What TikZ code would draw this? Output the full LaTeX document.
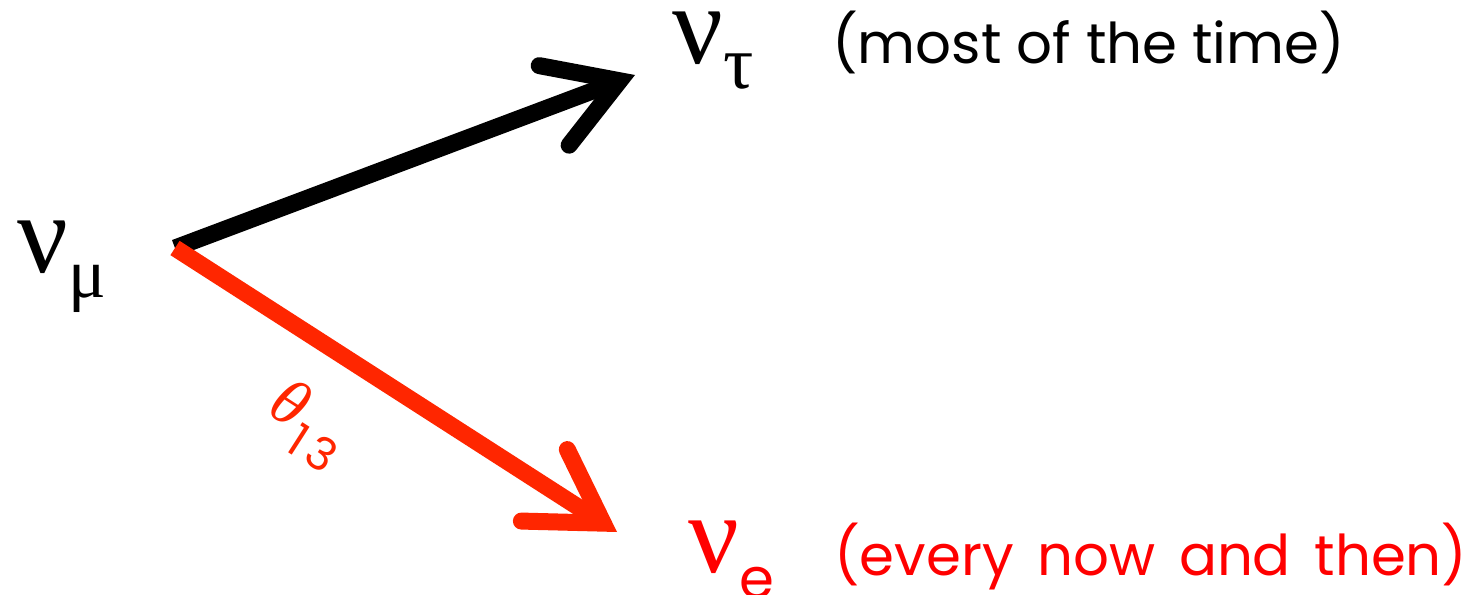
\documentclass[tikz,border=0pt]{standalone}
\usepackage{fontspec}
\setmainfont{Poppins}
\newfontfamily\greekfont{Liberation Serif}
\usetikzlibrary{arrows.meta}
\definecolor{arrowred}{RGB}{255,38,0}
\definecolor{labelred}{RGB}{255,0,0}
% neutrino symbol with a lowered flavour index
\newcommand{\nuflav}[1]{{\greekfont\fontsize{64}{64}\selectfont ν}\raisebox{-0.52cm}{#1}}
\begin{document}
\begin{tikzpicture}[x=0.02cm, y=-0.02cm,
		vec/.style={line width=0.34cm, -{Straight Barb[length=1.4cm, width=1.7cm, line cap=round, line join=miter]}},
		note/.style={inner sep=0pt, anchor=base west, font=\fontsize{32}{32}\selectfont},
		flav/.style={inner sep=0pt, anchor=base west}]
	\useasboundingbox[fill=white] (0,0) rectangle (1471,595);
	% start of both states and the two tips
	\coordinate (origin) at (175,248);
	\coordinate (tautip) at (635,75);
	\coordinate (etip) at (617,532);
	% flavour labels
	\node[flav] (numu) at (17,272) {\nuflav{\greekfont\fontsize{40}{40}\selectfont μ}};
	\node[flav] (nutau) at (672,63) {\nuflav{\greekfont\fontsize{43}{43}\selectfont τ}};
	\node[flav, labelred] (nue) at (688,572) {\nuflav{\fontsize{32}{32}\selectfont e}};
	\node[note] (mostly) at (832,63) {(most of the time)};
	\node[note, labelred] (rarely) at (834,575) {\spaceskip=0.42em (every now and then)};
	% the two arrows
	\draw[vec, black] (origin) -- (tautip);
	\draw[vec, arrowred] (origin) -- (etip);
	\node[arrowred, rotate=-32.7, inner sep=0pt] (mixangle) at (307,425)
		{{\greekfont\itshape\fontsize{37}{37}\selectfont θ}\hspace{2pt}\raisebox{-0.42cm}{\fontsize{26}{26}\selectfont 1\kern4pt 3}};
\end{tikzpicture}
\end{document}
